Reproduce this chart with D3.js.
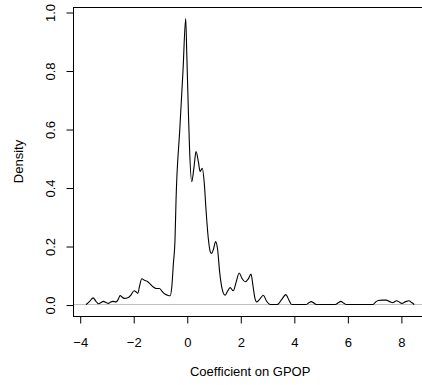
<!DOCTYPE html>
<html>
<head>
<meta charset="utf-8">
<script src="https://cdn.jsdelivr.net/npm/d3@7"></script>
<style>
  body { margin: 0; background: #fff; }
  text { font-family: "Liberation Sans", Arial, sans-serif; fill: #000; }
</style>
</head>
<body>
<div id="container"></div>
<script>
// kernel density estimate
const xs = [-3.76, -3.62, -3.50, -3.40, -3.30, -3.20, -3.11, -3.02, -2.93, -2.84,
  -2.76, -2.64, -2.56, -2.49, -2.42, -2.34, -2.18, -2.08, -1.97, -1.90,
  -1.83, -1.76, -1.68, -1.58, -1.47, -1.36, -1.25, -1.14, -1.02, -0.93,
  -0.85, -0.72, -0.62, -0.56, -0.50, -0.44, -0.40, -0.26, -0.14, -0.04,
  0.00, 0.06, 0.105, 0.187, 0.27, 0.347, 0.43, 0.50, 0.58, 0.65,
  0.72, 0.80, 0.88, 0.93, 1.00, 1.08, 1.15, 1.23, 1.33, 1.43,
  1.52, 1.62, 1.74, 1.84, 1.96, 2.07, 2.18, 2.30, 2.40, 2.48,
  2.55, 2.61, 2.72, 2.86, 2.98, 3.11, 3.38, 3.55, 3.70, 3.82,
  3.92, 4.45, 4.56, 4.65, 4.75, 4.85, 5.55, 5.66, 5.76, 5.86,
  5.96, 6.95, 7.05, 7.15, 7.30, 7.45, 7.58, 7.69, 7.84, 7.95,
  8.03, 8.18, 8.30, 8.40, 8.50];
const density = [0, 0.012, 0.023, 0.012, 0.003, 0.007, 0.011, 0.007, 0.004, 0.009,
  0.011, 0.009, 0.018, 0.031, 0.026, 0.021, 0.024, 0.033, 0.047, 0.044,
  0.038, 0.065, 0.088, 0.083, 0.079, 0.070, 0.060, 0.055, 0.055, 0.046,
  0.038, 0.032, 0.030, 0.06, 0.14, 0.22, 0.36, 0.60, 0.80, 0.978,
  0.86, 0.66, 0.53, 0.42, 0.47, 0.523, 0.49, 0.455, 0.466, 0.42,
  0.323, 0.23, 0.18, 0.175, 0.19, 0.215, 0.19, 0.11, 0.05, 0.032,
  0.045, 0.058, 0.047, 0.075, 0.108, 0.088, 0.078, 0.088, 0.104, 0.06,
  0.02, 0.009, 0.018, 0.032, 0.012, 0, 0, 0.018, 0.034, 0.015,
  0, 0, 0.006, 0.010, 0.005, 0, 0, 0.006, 0.011, 0.005,
  0, 0, 0.008, 0.014, 0.015, 0.015, 0.010, 0.006, 0.013, 0.008,
  0.004, 0.010, 0.013, 0.007, 0];

const xTicks = [-4, -2, 0, 2, 4, 6, 8];
const yTicks = [0, 0.2, 0.4, 0.6, 0.8, 1.0];

const width = 422;
const height = 385;
const plot = { left: 73, right: 427.4, top: 7, bottom: 316 };

const svg = d3.select('#container').append('svg')
    .attr('width', width)
    .attr('height', height);

const points = xs.map((x, i) => ({ x: x, y: density[i] }));

// R style 4% padding on both axes
const xExt = d3.extent(xs);
const xPad = (xExt[1] - xExt[0]) * 0.04;
const yMax = d3.max(density);
const yPad = yMax * 0.04;

const x = d3.scaleLinear()
    .domain([xExt[0] - xPad, xExt[1] + xPad])
    .range([plot.left, plot.right]);

const y = d3.scaleLinear()
    .domain([-yPad, yMax + yPad])
    .range([plot.bottom, plot.top]);

// zero reference line
svg.append('line')
    .attr('x1', plot.left).attr('x2', plot.right)
    .attr('y1', y(0)).attr('y2', y(0))
    .attr('stroke', '#bebebe')
    .attr('stroke-width', 1);

// density curve
const line = d3.line()
    .x(d => x(d.x))
    .y(d => y(d.y))
    .curve(d3.curveMonotoneX);

svg.append('path')
    .datum(points)
    .attr('d', line)
    .attr('fill', 'none')
    .attr('stroke', '#000')
    .attr('stroke-width', 1.1);

// box
svg.append('rect')
    .attr('x', plot.left + 0.5)
    .attr('y', plot.top + 0.5)
    .attr('width', plot.right - plot.left)
    .attr('height', plot.bottom - plot.top)
    .attr('fill', 'none')
    .attr('stroke', '#000')
    .attr('stroke-width', 1);

// x axis
const xAxis = svg.append('g')
    .attr('transform', `translate(0.5,${plot.bottom + 0.5})`)
    .call(d3.axisBottom(x).tickValues(xTicks).tickSize(7).tickPadding(14)
        .tickFormat(d3.format('d')));
xAxis.select('.domain')
    .attr('d', `M${x(xTicks[0])},0H${x(xTicks[xTicks.length - 1])}`);
xAxis.selectAll('text')
    .attr('font-size', 13)
    .attr('font-family', '"Liberation Sans", Arial, sans-serif');

// y axis, labels rotated like R
const yAxis = svg.append('g')
    .attr('transform', `translate(${plot.left + 0.5},0.5)`)
    .call(d3.axisLeft(y).tickValues(yTicks).tickSize(7)
        .tickFormat(d3.format('.1f')));
yAxis.select('.domain')
    .attr('d', `M0,${y(yTicks[0])}V${y(yTicks[yTicks.length - 1])}`);
yAxis.selectAll('text')
    .attr('font-size', 13)
    .attr('font-family', '"Liberation Sans", Arial, sans-serif')
    .attr('text-anchor', 'middle')
    .attr('dy', 0)
    .attr('x', 0)
    .attr('transform', `translate(${54 - plot.left},0) rotate(-90)`);

// axis titles
svg.append('text')
    .attr('x', (plot.left + plot.right) / 2)
    .attr('y', 376)
    .attr('text-anchor', 'middle')
    .attr('font-size', 13)
    .text('Coefficient on GPOP');

svg.append('text')
    .attr('transform', `translate(22.5,${(plot.top + plot.bottom) / 2}) rotate(-90)`)
    .attr('text-anchor', 'middle')
    .attr('font-size', 13)
    .text('Density');
</script>
</body>
</html>
